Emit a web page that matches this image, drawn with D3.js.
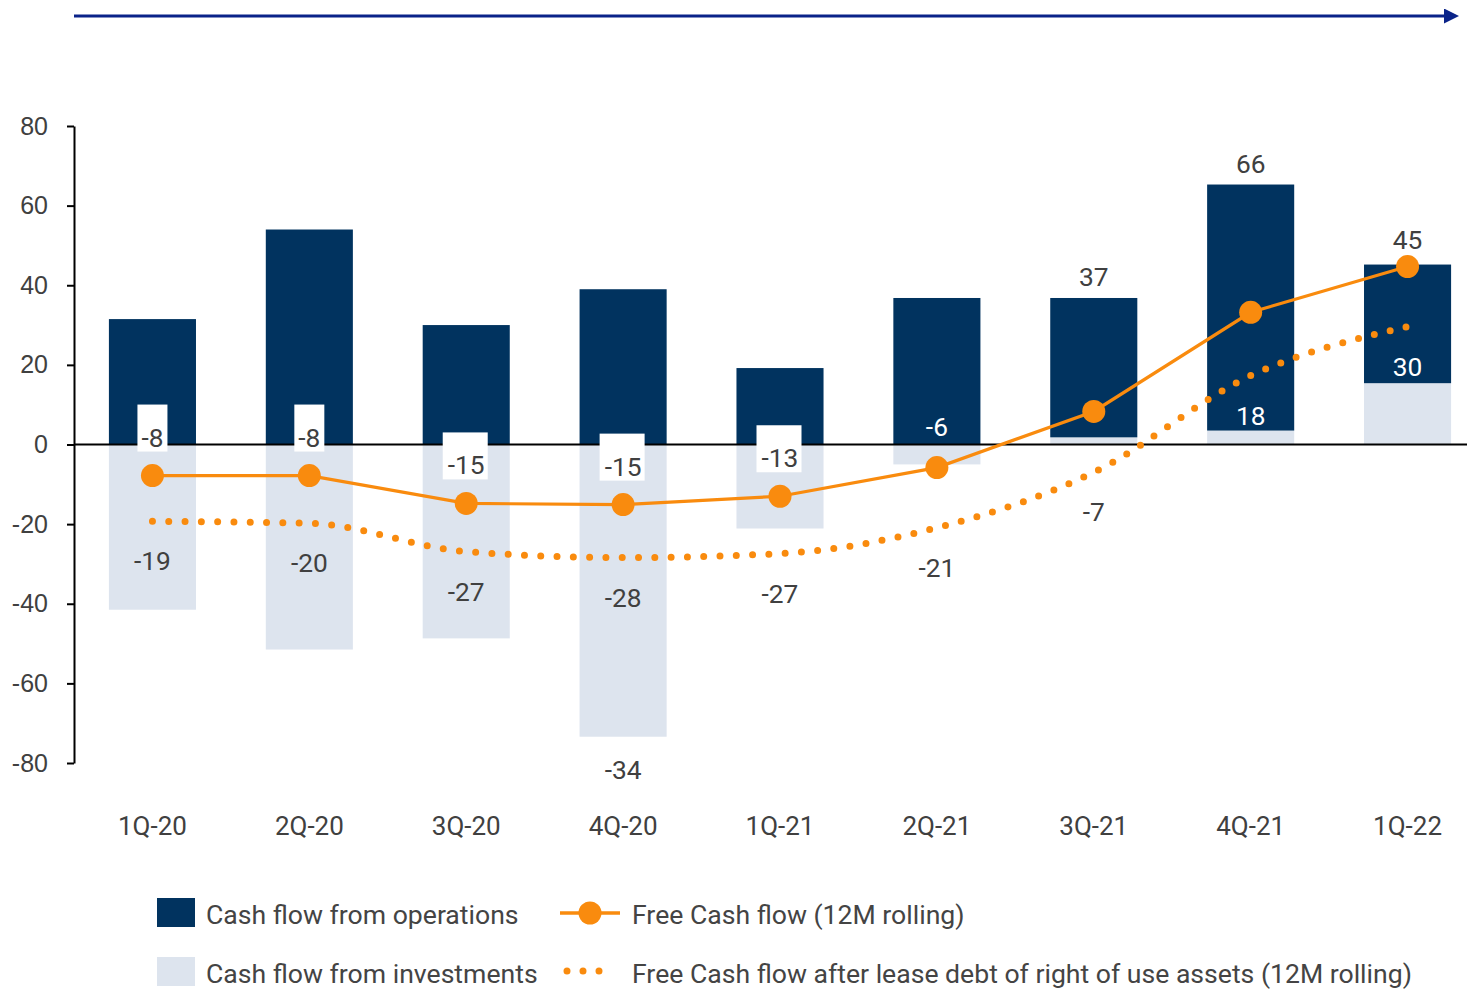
<!DOCTYPE html>
<html>
<head>
<meta charset="utf-8">
<script src="https://cdn.jsdelivr.net/npm/d3@7/dist/d3.min.js"></script>
<style>
  html, body { margin: 0; padding: 0; background: #fff; }
  svg { display: block; }
</style>
</head>
<body>
<svg id="chart" width="1467" height="989"></svg>
<script>
// ---- data ----
const categories = ["1Q-20","2Q-20","3Q-20","4Q-20","1Q-21","2Q-21","3Q-21","4Q-21","1Q-22"];
const operations = [31.5, 54, 30, 39, 19.2, 36.8, 35, 61.8, 29.8];
const investments = [-41.5, -51.5, -48.7, -73.4, -21.1, -5, 1.8, 3.5, 15.4];
const freeCashFlow = [-7.8, -7.8, -14.8, -15.1, -13, -5.8, 8.3, 33.2, 44.7];
const fcfAfterLease = [-19.3, -19.8, -26.9, -28.4, -27.4, -20.9, -7, 17.3, 29.6];
const fcfLabels = ["-8","-8","-15","-15","-13","-6","37","66","45"];
const leaseLabels = ["-19","-20","-27","-28","-27","-21","-7","18","30"];
const investLabels = ["","","","-34","","","","",""];
const yTicks = [-80,-60,-40,-20,0,20,40,60,80];
const seriesNames = ["Cash flow from operations","Cash flow from investments","Free Cash flow (12M rolling)","Free Cash flow after lease debt of right of use assets (12M rolling)"];

// ---- style ----
const NAVY = "#01335f", LIGHT = "#dde4ee", ORANGE = "#f98b0e", TEXT = "#404040";
const FONT = "Roboto, 'Noto Sans', sans-serif";

const svg = d3.select("#chart");

const x = d3.scaleBand().domain(categories).range([74, 1486]).paddingInner(0.445).paddingOuter(0.2225);
const y = d3.scaleLinear().domain([-80, 80]).range([763, 126]);
const cx = c => x(c) + x.bandwidth() / 2;

// top arrow
svg.append("defs").append("marker")
  .attr("id", "arrow").attr("viewBox", "0 0 10 10").attr("refX", 0).attr("refY", 5)
  .attr("markerWidth", 5).attr("markerHeight", 5).attr("markerUnits", "strokeWidth").attr("orient", "auto")
  .append("path").attr("d", "M0,0 L10,5 L0,10 Z").attr("fill", "#0a2389");
svg.append("line").attr("x1", 74).attr("x2", 1444).attr("y1", 16).attr("y2", 16)
  .attr("stroke", "#0a2389").attr("stroke-width", 3).attr("marker-end", "url(#arrow)");

// stacked bars
const table = categories.map((c, i) => ({cat: c, investments: investments[i], operations: operations[i]}));
const stack = d3.stack().keys(["investments", "operations"]).offset(d3.stackOffsetDiverging);
const layers = stack(table);
const colors = {investments: LIGHT, operations: NAVY};
svg.append("g").selectAll("g").data(layers).join("g")
  .attr("fill", d => colors[d.key])
  .selectAll("rect").data(d => d).join("rect")
  .attr("x", d => x(d.data.cat))
  .attr("width", x.bandwidth())
  .attr("y", d => y(Math.max(d[0], d[1])))
  .attr("height", d => Math.abs(y(d[0]) - y(d[1])));

// axes
const yAxis = svg.append("g").attr("transform", "translate(74,0)")
  .call(d3.axisLeft(y).tickValues(yTicks).tickFormat(d => String(d)).tickSize(7).tickSizeOuter(0).tickPadding(19));
yAxis.select(".domain").attr("stroke", "#000").attr("stroke-width", 2);
yAxis.selectAll(".tick line").attr("stroke", "#000").attr("stroke-width", 2);
yAxis.selectAll("text").attr("font-family", "'Liberation Sans', Arial, sans-serif").attr("font-size", 25).attr("fill", TEXT);

svg.append("line").attr("x1", 74).attr("x2", 1467).attr("y1", y(0)).attr("y2", y(0))
  .attr("stroke", "#000").attr("stroke-width", 2);

const xAxis = svg.append("g").attr("transform", "translate(0,763)")
  .call(d3.axisBottom(x).tickSize(0).tickPadding(54));
xAxis.select(".domain").remove();
xAxis.selectAll("text").attr("font-family", FONT).attr("font-size", 26).attr("fill", TEXT);

// FCF after lease (dotted, smooth)
const lineLease = d3.line().x((d, i) => cx(categories[i])).y(d => y(d)).curve(d3.curveMonotoneX);
svg.append("path").datum(fcfAfterLease).attr("d", lineLease)
  .attr("fill", "none").attr("stroke", ORANGE).attr("stroke-width", 7)
  .attr("stroke-linecap", "round").attr("stroke-dasharray", "0 16.3");

// FCF line
const lineFcf = d3.line().x((d, i) => cx(categories[i])).y(d => y(d));
svg.append("path").datum(freeCashFlow).attr("d", lineFcf)
  .attr("fill", "none").attr("stroke", ORANGE).attr("stroke-width", 3.2);
svg.append("g").selectAll("circle").data(freeCashFlow).join("circle")
  .attr("cx", (d, i) => cx(categories[i])).attr("cy", d => y(d)).attr("r", 11.5).attr("fill", ORANGE);

// labels
const labelG = svg.append("g").attr("font-family", FONT).attr("font-size", 26.3).attr("text-anchor", "middle");
categories.forEach((c, i) => {
  const t = fcfLabels[i];
  let cyv, fill = TEXT, box = false;
  if (i <= 4) { cyv = y(freeCashFlow[i]) - 38; box = true; }
  else if (i === 5) { cyv = y(freeCashFlow[i]) - 41; fill = "#fff"; }
  else if (i === 8) { cyv = y(freeCashFlow[i]) - 27; }
  else { cyv = y(operations[i] + Math.max(0, investments[i])) - 21; }
  if (box) {
    const w = t.length > 2 ? 45 : 30;
    labelG.append("rect").attr("x", cx(c) - w / 2 - (t.length > 2 ? 1 : 0)).attr("y", cyv - 33).attr("width", w).attr("height", 47).attr("fill", "#fff");
  }
  labelG.append("text").attr("x", cx(c)).attr("y", cyv + 9).attr("fill", fill).text(t);
});
categories.forEach((c, i) => {
  labelG.append("text").attr("x", cx(c)).attr("y", y(fcfAfterLease[i]) + 40 + 9)
    .attr("fill", i >= 7 ? "#fff" : TEXT).text(leaseLabels[i]);
  if (investLabels[i]) {
    labelG.append("text").attr("x", cx(c)).attr("y", y(investments[i]) + 33 + 9)
      .attr("fill", TEXT).text(investLabels[i]);
  }
});

// legend
const lg = svg.append("g").attr("font-family", FONT).attr("font-size", 26.6).attr("fill", "#444");
lg.append("rect").attr("x", 157).attr("y", 898).attr("width", 38).attr("height", 29).attr("fill", NAVY);
lg.append("rect").attr("x", 157).attr("y", 957).attr("width", 38).attr("height", 29).attr("fill", LIGHT);
lg.append("text").attr("x", 206).attr("y", 924).text(seriesNames[0]);
lg.append("text").attr("x", 206).attr("y", 983).text(seriesNames[1]);
lg.append("line").attr("x1", 560).attr("x2", 620).attr("y1", 913).attr("y2", 913).attr("stroke", ORANGE).attr("stroke-width", 3.5);
lg.append("circle").attr("cx", 590).attr("cy", 913).attr("r", 11.5).attr("fill", ORANGE);
lg.append("line").attr("x1", 567).attr("x2", 600).attr("y1", 971).attr("y2", 971).attr("stroke", ORANGE)
  .attr("stroke-width", 7).attr("stroke-linecap", "round").attr("stroke-dasharray", "0 16");
lg.append("text").attr("x", 632).attr("y", 924).text(seriesNames[2]);
lg.append("text").attr("x", 632).attr("y", 983).text(seriesNames[3]);
</script>
</body>
</html>
